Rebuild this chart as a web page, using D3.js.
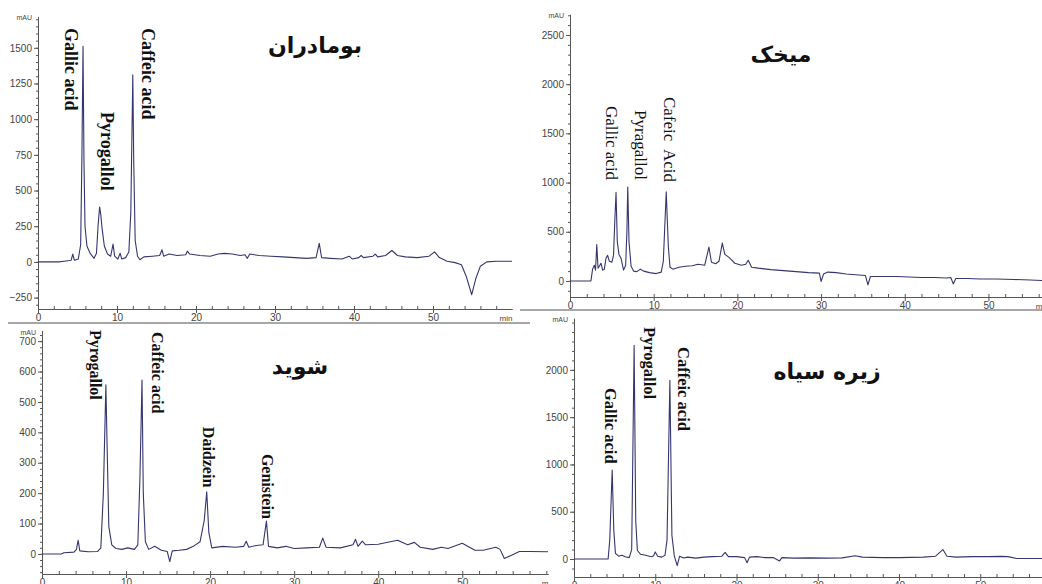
<!DOCTYPE html>
<html>
<head>
<meta charset="utf-8">
<script src="https://cdn.jsdelivr.net/npm/d3@7"></script>
<style>
  body { margin: 0; background: #fff; }
  svg { display: block; }
</style>
</head>
<body>
<svg id="chart" width="1042" height="584"></svg>
<script>
/* HPLC chromatograms of four plant extracts */

// ---- بومادران ----
const timeBomadaran = [0, 2.6, 3.3, 4.0, 4.2, 4.4, 4.6, 5.1, 5.4, 5.55, 5.7, 5.82, 5.95, 6.2, 6.6, 7.1, 7.4, 7.6, 7.8, 7.95, 8.1, 8.4, 8.8, 9.2, 9.5, 9.7, 10.1, 10.4, 10.6, 11.1, 11.5, 11.75, 12.0, 12.12, 12.3, 12.6, 12.9, 13.4, 14.5, 15.4, 15.7, 15.9, 16.6, 17.6, 18.7, 18.9, 19.2, 20.5, 21.8, 22.8, 23.6, 24.6, 25.6, 26.2, 26.5, 26.8, 28.0, 29.5, 31.0, 32.5, 34.0, 35.2, 35.6, 35.9, 37.0, 38.5, 39.4, 39.8, 40.6, 40.9, 41.2, 42.4, 42.7, 43.0, 44.0, 44.8, 45.5, 46.5, 48.0, 49.5, 50.2, 50.8, 51.8, 52.8, 53.6, 54.2, 54.9, 55.4, 56.0, 56.8, 58.0, 60.0];
const mauBomadaran = [0, 0, 5, 10, 12, 55, 12, 20, 120, 700, 1510, 700, 250, 110, 60, 25, 60, 250, 385, 330, 240, 110, 55, 40, 125, 40, 20, 60, 20, 30, 70, 350, 1310, 700, 150, 40, 15, 35, 40, 45, 85, 40, 55, 45, 50, 75, 55, 45, 40, 55, 60, 55, 45, 50, 25, 55, 45, 40, 35, 30, 25, 30, 130, 30, 25, 20, 40, 20, 30, 45, 30, 40, 55, 35, 45, 80, 45, 35, 30, 40, 70, 30, 5, -5, -20, -100, -230, -120, -30, 0, 5, 5];
const namesBomadaran = ["Gallic acid", "Pyrogallol", "Caffeic acid"];
const peakTimeBomadaran = [5.7, 7.8, 12.0];
const ticksBomadaran = [-250, 0, 250, 500, 750, 1000, 1250, 1500];

// ---- میخک ----
const timeMikhak = [0, 2.5, 2.7, 2.9, 3.05, 3.2, 3.35, 3.5, 3.7, 3.9, 4.1, 4.3, 4.5, 4.7, 5.0, 5.2, 5.35, 5.5, 5.65, 5.85, 6.1, 6.4, 6.65, 6.8, 6.9, 7.05, 7.3, 7.6, 8.0, 8.4, 8.8, 9.5, 10.3, 10.9, 11.15, 11.5, 11.75, 11.95, 12.3, 13.0, 13.8, 14.6, 15.3, 16.1, 16.6, 16.9, 17.4, 17.8, 18.2, 18.5, 19.0, 19.7, 20.5, 21.0, 21.3, 21.7, 22.5, 24.0, 25.5, 27.0, 28.5, 29.8, 30.0, 30.3, 30.8, 31.8, 33.0, 34.5, 35.3, 35.6, 35.9, 37.5, 39.0, 40.5, 42.0, 43.5, 45.0, 45.5, 45.8, 46.1, 47.5, 49.0, 51.0, 53.0, 55.0, 56.4];
const mauMikhak = [0, 0, 120, 160, 110, 370, 130, 150, 180, 110, 120, 230, 260, 200, 190, 260, 600, 900, 400, 270, 230, 110, 160, 500, 955, 400, 150, 100, 95, 120, 100, 85, 75, 90, 200, 905, 350, 140, 120, 140, 150, 155, 170, 160, 345, 190, 175, 200, 385, 270, 240, 180, 160, 170, 210, 140, 130, 115, 105, 95, 85, 80, -5, 70, 90, 85, 70, 60, 55, -40, 45, 45, 45, 40, 35, 35, 30, 35, -30, 25, 25, 20, 20, 15, 10, 5];
const namesMikhak = ["Gallic acid", "Pyragallol", "Cafeic  Acid"];
const peakTimeMikhak = [5.5, 6.9, 11.5];
const ticksMikhak = [0, 500, 1000, 1500, 2000, 2500];

// ---- شوید ----
const timeShevid = [0, 2.3, 2.6, 3.8, 4.1, 4.3, 4.5, 5.5, 6.6, 7.0, 7.3, 7.6, 7.75, 7.95, 8.3, 8.8, 9.5, 10.2, 11.0, 11.4, 11.65, 11.9, 12.05, 12.3, 12.7, 13.4, 14.2, 14.9, 15.2, 15.5, 16.3, 17.2, 18.0, 18.8, 19.3, 19.6, 19.85, 20.2, 21.5, 23.0, 24.0, 24.3, 24.6, 25.5, 26.3, 26.7, 26.95, 28.0, 29.0, 30.0, 31.5, 33.0, 33.4, 33.8, 35.5, 37.0, 37.3, 37.6, 38.1, 38.5, 40.0, 42.3, 43.5, 44.3, 45.0, 46.5, 47.5, 48.3, 50.0, 51.5, 52.5, 54.0, 54.5, 55.0, 55.8, 56.8, 58.1, 60.2];
const mauShevid = [0, 0, 4, 6, 15, 45, 10, 7, 8, 20, 200, 556, 350, 90, 30, 18, 15, 20, 15, 30, 250, 572, 200, 40, 15, 25, 12, 8, -25, 10, 12, 15, 25, 40, 110, 204, 70, 20, 25, 22, 25, 42, 22, 28, 30, 108, 25, 20, 25, 18, 20, 22, 52, 22, 20, 30, 48, 25, 42, 30, 32, 45, 30, 38, 22, 15, 22, 18, 35, 12, 12, 22, 15, -15, -5, 8, 8, 7];
const namesShevid = ["Pyrogallol", "Caffeic acid", "Daidzein", "Genistein"];
const peakTimeShevid = [7.6, 11.9, 19.6, 26.7];
const ticksShevid = [0, 100, 200, 300, 400, 500, 600, 700];

// ---- زیره سیاه ----
const timeZireh = [0, 4.2, 4.4, 4.7, 4.9, 5.1, 5.5, 5.9, 6.3, 6.8, 7.1, 7.4, 7.6, 7.8, 8.2, 8.8, 9.5, 9.8, 10.0, 10.3, 10.8, 11.2, 11.45, 11.8, 12.05, 12.35, 12.7, 13.0, 13.5, 14.0, 15.0, 16.0, 17.0, 18.2, 18.6, 19.0, 20.0, 21.0, 21.3, 21.6, 22.5, 23.5, 24.5, 25.3, 25.6, 27.0, 29.0, 31.0, 33.0, 34.6, 35.5, 38.0, 40.0, 43.0, 44.5, 45.4, 45.9, 47.0, 49.0, 51.0, 52.5, 53.4, 54.5, 57.6];
const mauZireh = [0, 0, 200, 940, 300, 60, 30, 40, 25, 15, 100, 2260, 400, 90, 50, 40, 25, 35, 75, 30, 20, 40, 200, 1890, 250, 30, -70, 30, 10, 20, 10, 20, 25, 30, 70, 25, 25, 15, -40, 20, 25, 15, 15, -20, 15, 10, 12, 10, 12, 35, 20, 15, 15, 20, 30, 100, 30, 20, 25, 25, 28, 25, 5, 5];
const namesZireh = ["Gallic acid", "Pyrogallol", "Caffeic acid"];
const peakTimeZireh = [4.7, 7.4, 11.8];
const ticksZireh = [0, 500, 1000, 1500, 2000];

const timeTicks = [0, 10, 20, 30, 40, 50];

const panels = [
  { title: "بومادران", time: timeBomadaran, mau: mauBomadaran, names: namesBomadaran, peaks: peakTimeBomadaran,
    yTicks: ticksBomadaran, minor: 50, tMax: 60, xRange: [38, 512], vRange: [-330, 1720], yRange: [309, 16.4],
    unit: "min", unitX: 506, titleX: 315, titleY: 53, bold: true, fontSize: 18,
    labelDx: [-18, 1, 9], labelV: [1639, 1050, 1639] },
  { title: "میخک", time: timeMikhak, mau: mauMikhak, names: namesMikhak, peaks: peakTimeMikhak,
    yTicks: ticksMikhak, minor: 100, tMax: 56.4, xRange: [570, 1042], vRange: [-163, 2710], yRange: [297, 14.3],
    unit: "m", unitX: 1039, titleX: 781, titleY: 62, bold: false, fontSize: 17,
    labelDx: [-10, 7, -2], labelV: [1778, 1737, 1870] },
  { title: "شوید", time: timeShevid, mau: mauShevid, names: namesShevid, peaks: peakTimeShevid,
    yTicks: ticksShevid, minor: 20, tMax: 60.2, xRange: [42, 548], vRange: [-66, 735], yRange: [574, 330.5],
    unit: "m", unitX: 545, titleX: 300, titleY: 374, bold: true, fontSize: 16,
    labelDx: [-16, 10, -4, -4], labelV: [737, 730, 418, 329] },
  { title: "زیره سیاه", time: timeZireh, mau: mauZireh, names: namesZireh, peaks: peakTimeZireh,
    yTicks: ticksZireh, minor: 100, tMax: 57.6, xRange: [574, 1042], vRange: [-190, 2545], yRange: [577, 318.3],
    unit: "", unitX: 0, titleX: 827, titleY: 379, bold: true, fontSize: 16.5,
    labelDx: [-7, 10, 8], labelV: [1808, 2453, 2241] }
];

const svg = d3.select("#chart");

svg.append("rect").attr("width", 1042).attr("height", 584).attr("fill", "#fff");

// borders of the pasted screenshots
svg.append("line").attr("x1", 8).attr("x2", 530).attr("y1", 323).attr("y2", 323)
  .attr("stroke", "#8a8a8a").attr("stroke-width", 1.5);
svg.append("line").attr("x1", 520).attr("x2", 1042).attr("y1", 310).attr("y2", 310)
  .attr("stroke", "#8a8a8a").attr("stroke-width", 1.5);

panels.forEach(p => drawPanel(p));

function drawPanel(p) {
  const xs = d3.scaleLinear().domain([0, p.tMax]).range(p.xRange);
  const ys = d3.scaleLinear().domain(p.vRange).range(p.yRange);
  const g = svg.append("g");

  // y axis, minor then major
  const minorY = d3.range(Math.ceil(p.vRange[0] / p.minor) * p.minor, p.vRange[1], p.minor);
  g.append("g")
    .attr("transform", `translate(${p.xRange[0]},0)`)
    .attr("color", "#555")
    .call(d3.axisLeft(ys).tickValues(minorY).tickSize(2).tickSizeOuter(0).tickFormat(""));
  g.append("g")
    .attr("transform", `translate(${p.xRange[0]},0)`)
    .attr("color", "#555")
    .attr("font-family", "Liberation Sans, Arial")
    .attr("font-size", 8)
    .call(d3.axisLeft(ys).tickValues(p.yTicks).tickSize(4).tickPadding(2).tickSizeOuter(0).tickFormat(d3.format("d")))
    .call(a => a.selectAll("text").attr("fill", "#444"));

  g.append("text")
    .attr("x", p.xRange[0] - 6)
    .attr("y", p.yRange[1] + 4)
    .attr("text-anchor", "end")
    .attr("font-family", "Liberation Sans, Arial")
    .attr("font-size", 7)
    .attr("fill", "#444")
    .text("mAU");

  // x axis
  const yAxis = p.yRange[0];
  g.append("g")
    .attr("transform", `translate(0,${yAxis})`)
    .attr("color", "#555")
    .call(d3.axisBottom(xs).tickValues(d3.range(0, p.tMax, 2)).tickSize(-3).tickSizeOuter(0).tickFormat(""));
  g.append("g")
    .attr("transform", `translate(0,${yAxis})`)
    .attr("color", "#555")
    .attr("font-family", "Liberation Sans, Arial")
    .attr("font-size", 8)
    .call(d3.axisBottom(xs).tickValues(timeTicks).tickSize(4).tickPadding(1).tickSizeOuter(0))
    .call(a => a.selectAll("text").attr("fill", "#444"));

  if (p.unit) {
    g.append("text")
      .attr("x", p.unitX)
      .attr("y", yAxis + 12)
      .attr("text-anchor", "middle")
      .attr("font-family", "Liberation Sans, Arial")
      .attr("font-size", 8)
      .attr("fill", "#444")
      .text(p.unit);
  }

  // chromatogram trace
  const line = d3.line()
    .x(d => xs(d[0]))
    .y(d => ys(d[1]));

  g.append("path")
    .datum(d3.zip(p.time, p.mau))
    .attr("fill", "none")
    .attr("stroke", "#35356f")
    .attr("stroke-width", 1.1)
    .attr("stroke-linejoin", "round")
    .attr("d", line);

  // compound names, written downwards
  g.selectAll("text.peak")
    .data(p.names)
    .join("text")
    .attr("class", "peak")
    .attr("transform", (d, i) => `translate(${xs(p.peaks[i]) + p.labelDx[i]},${ys(p.labelV[i])}) rotate(90)`)
    .attr("font-family", "Liberation Serif, Times New Roman, serif")
    .attr("font-weight", p.bold ? "bold" : null)
    .attr("font-size", p.fontSize)
    .attr("fill", "#111")
    .style("white-space", "pre")
    .text(d => d);

  // plant name
  g.append("text")
    .attr("x", p.titleX)
    .attr("y", p.titleY)
    .attr("text-anchor", "middle")
    .attr("font-family", "DejaVu Sans, sans-serif")
    .attr("font-weight", "bold")
    .attr("font-size", 22)
    .attr("fill", "#111")
    .text(p.title);
}
</script>
</body>
</html>
